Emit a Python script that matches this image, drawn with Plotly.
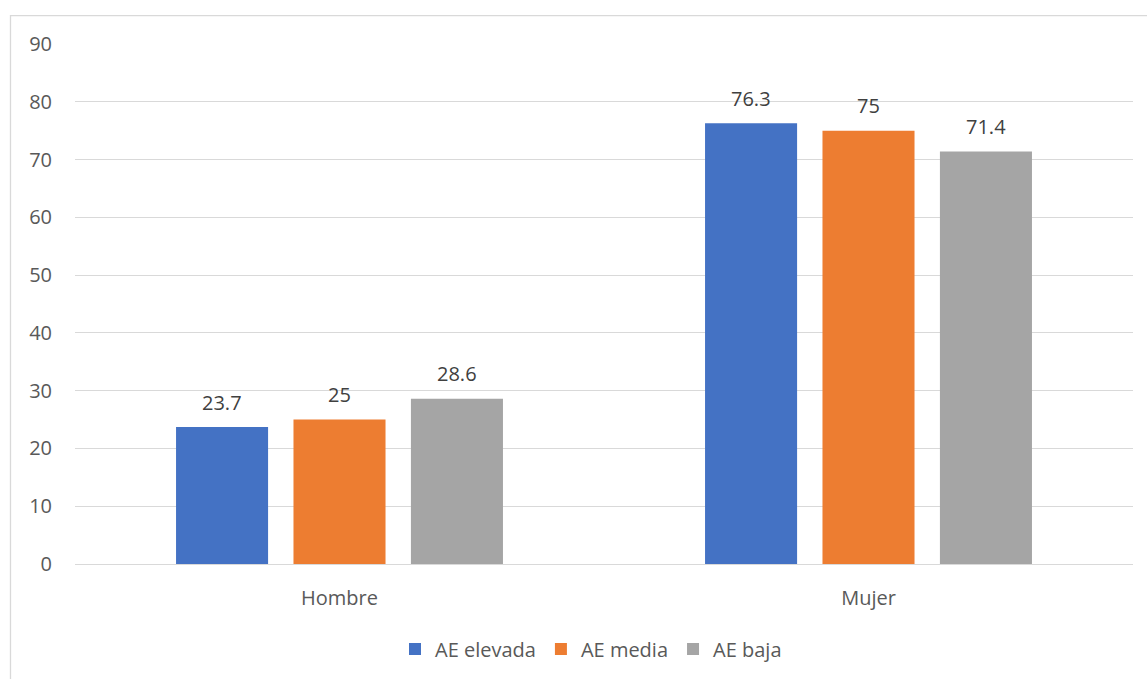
import plotly.graph_objects as go

categories = ["Hombre", "Mujer"]
series_names = ["AE elevada", "AE media", "AE baja"]
ae_elevada = [23.7, 76.3]
ae_media = [25, 75]
ae_baja = [28.6, 71.4]
y_ticks = [0, 10, 20, 30, 40, 50, 60, 70, 80, 90]

colors = ["#4472C4", "#ED7D31", "#A5A5A5"]
FONT = "Open Sans"

# Category slots on a numeric axis so each bar's centre is known for its label
cat_pos = list(range(len(categories)))
slot = 0.222       # distance between neighbouring bars in a cluster
bar_w = 0.174      # bar width in category units

fig = go.Figure()
annotations = []
for k, (name, vals, col) in enumerate(zip(series_names, [ae_elevada, ae_media, ae_baja], colors)):
    shift = (k - 1) * slot
    fig.add_trace(go.Bar(
        x=cat_pos, y=vals, name=name,
        width=bar_w, offset=shift - bar_w / 2,
        marker=dict(color=col, line=dict(width=0)),
        hoverinfo="y",
    ))
    for xc, v in zip(cat_pos, vals):
        annotations.append(dict(
            x=xc + shift, y=v, xref="x", yref="y",
            text=f"{v:g}", showarrow=False,
            yanchor="middle", yshift=25,
            font=dict(family=FONT, size=20, color="#404040"),
        ))

W, H = 1147, 679
ml, mr, mt, mb = 75, 14, 44, 114
pw, ph = W - ml - mr, H - mt - mb

fig.update_layout(
    width=W, height=H,
    margin=dict(l=ml, r=mr, t=mt, b=mb),
    paper_bgcolor="white", plot_bgcolor="white",
    barmode="overlay",
    font=dict(family=FONT, color="#595959", size=20),
    legend=dict(
        orientation="h", x=(591 - ml) / pw, xanchor="center",
        y=(mt + ph - 649) / ph, yanchor="middle",
        font=dict(family=FONT, size=20, color="#595959"),
        traceorder="normal",
    ),
    xaxis=dict(range=[-0.5, len(categories) - 0.5], tickvals=cat_pos,
               ticktext=categories, showgrid=False, showline=False,
               zeroline=False, ticks="", ticklabelstandoff=20,
               tickfont=dict(family=FONT, size=20, color="#595959")),
    yaxis=dict(range=[0, 90], tickvals=y_ticks, showgrid=True,
               gridcolor="#D9D9D9", gridwidth=1.3, zeroline=True,
               zerolinecolor="#D9D9D9", zerolinewidth=1.3, showline=False,
               ticks="", ticklabelstandoff=22,
               tickfont=dict(family=FONT, size=20, color="#595959")),
    annotations=annotations,
    shapes=[dict(
        type="rect", xref="paper", yref="paper",
        x0=(10.5 - ml) / pw, x1=(W + 40 - ml) / pw,
        y0=(mt + ph - 15.5) / ph, y1=(mt + ph - H - 40) / ph,
        line=dict(color="#D9D9D9", width=1.3), fillcolor="rgba(0,0,0,0)",
        layer="below",
    )],
    showlegend=True,
)

fig.write_html("out.html")
